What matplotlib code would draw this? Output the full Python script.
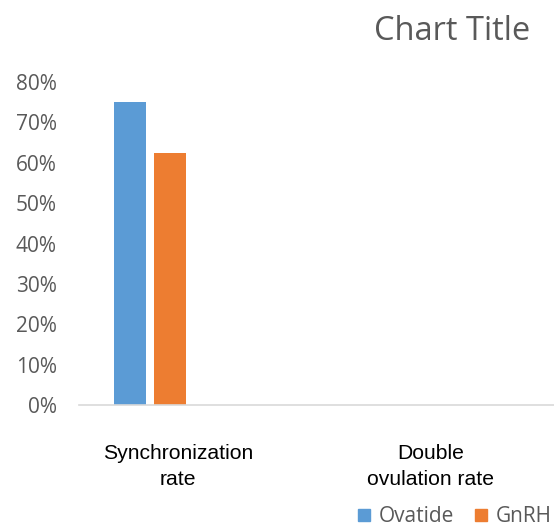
import numpy as np
import matplotlib.pyplot as plt
from matplotlib.patches import Patch

categories = ["Synchronization\nrate", "Double\novulation rate"]
series = ["Ovatide", "GnRH"]
ovatide = [0.75, 0.0]
gnrh = [0.625, 0.0]
yticks = [0, 0.1, 0.2, 0.3, 0.4, 0.5, 0.6, 0.7, 0.8]

colors = ["#5B9BD5", "#ED7D31"]
gray = "#595959"

fig = plt.figure(figsize=(5.54, 5.27), dpi=100)
ax = fig.add_axes([79 / 554, 1 - 405 / 527, 1 - 79 / 554, (405 - 82) / 527])

x = np.arange(len(categories))
w = 0.135
ax.bar(x - 0.287, ovatide, w, color=colors[0])
ax.bar(x - 0.115, gnrh, w, color=colors[1])

ax.set_xlim(-0.5, 1.5)
ax.set_ylim(0, 0.8)
ax.set_yticks(yticks)
ax.set_yticklabels([f"{int(round(v * 100))}%" for v in yticks],
                   fontsize=15, color=gray, family="Open Sans")
ax.set_xticks([-0.083, 0.982])
ax.set_xticklabels(categories, fontsize=15.2, family="Liberation Sans",
                   color="black", linespacing=1.5)
ax.tick_params(axis="both", length=0)
ax.tick_params(axis="x", pad=28)
ax.tick_params(axis="y", pad=16)
for s in ["top", "right", "left"]:
    ax.spines[s].set_visible(False)
ax.spines["bottom"].set_color("#D9D9D9")
ax.spines["bottom"].set_linewidth(1.2)

fig.text(530 / 554, 1 - 31 / 527, "Chart Title", ha="right", va="center",
         fontsize=23.5, color=gray, family="Open Sans")

handles = [Patch(color=c, label=s) for c, s in zip(colors, series)]
fig.legend(handles=handles, loc="center right", bbox_to_anchor=(552 / 554, 1 - 517 / 527),
           ncol=2, frameon=False, handlelength=0.55, handleheight=0.55,
           handletextpad=0.45, columnspacing=1.0, borderpad=0, borderaxespad=0,
           prop={"family": "Open Sans", "size": 15})
for t in fig.legends[0].get_texts():
    t.set_color(gray)

fig.savefig("out.png", dpi=100)
